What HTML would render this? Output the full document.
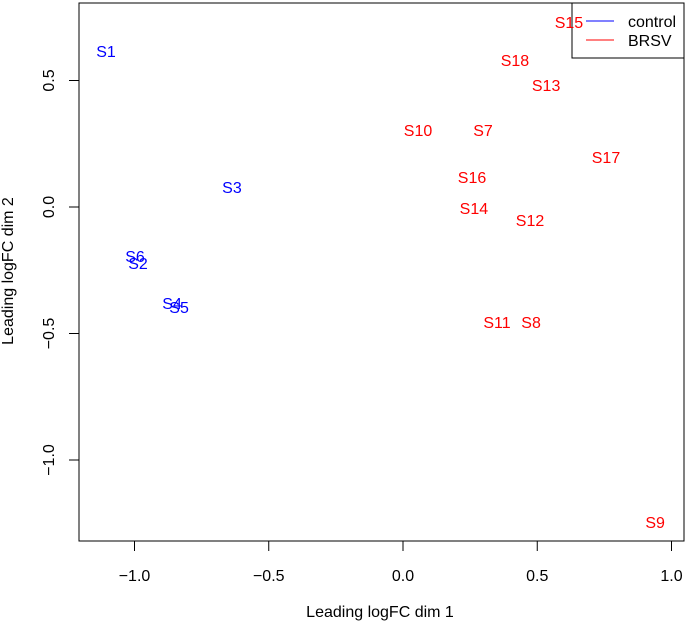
<!DOCTYPE html>
<html><head><meta charset="utf-8"><style>
html,body{margin:0;padding:0;background:#fff;}
svg{display:block;font-family:"Liberation Sans",Arial,sans-serif;}
</style></head><body>
<svg id="chart" width="685" height="626" viewBox="0 0 685 626">
<rect x="79" y="3" width="605" height="538" fill="none" stroke="#000" stroke-width="1"/>
<g id="xaxis"></g>
<g id="yaxis"></g>
<text x="380" y="617" font-size="16" text-anchor="middle">Leading logFC dim 1</text>
<text transform="translate(13,271) rotate(-90)" font-size="16" text-anchor="middle">Leading logFC dim 2</text>
<g>
<rect x="572" y="3" width="112" height="55" fill="none" stroke="#000"/>
<line x1="586" y1="21" x2="614" y2="21" stroke="blue"/>
<text x="628" y="27" font-size="16">control</text>
<line x1="586" y1="40" x2="614" y2="40" stroke="red"/>
<text x="628" y="46" font-size="16">BRSV</text>
</g>
<g id="points"></g>
</svg>
<script>
const labels = ["S1","S2","S3","S4","S5","S6","S7","S8","S9","S10","S11","S12","S13","S14","S15","S16","S17","S18"];
const groups = ["control","control","control","control","control","control","BRSV","BRSV","BRSV","BRSV","BRSV","BRSV","BRSV","BRSV","BRSV","BRSV","BRSV","BRSV"];
const dim1 = [-1.106,-0.987,-0.637,-0.86,-0.834,-0.998,0.298,0.477,0.939,0.056,0.35,0.473,0.533,0.264,0.618,0.257,0.756,0.417];
const dim2 = [0.617,-0.222,0.079,-0.379,-0.395,-0.194,0.304,-0.455,-1.245,0.304,-0.455,-0.051,0.482,-0.004,0.731,0.119,0.198,0.581];
const xTicks = [-1.0,-0.5,0.0,0.5,1.0];
const yTicks = [0.5,0.0,-0.5,-1.0];
const xTickLabels = ["\u22121.0","\u22120.5","0.0","0.5","1.0"];
const yTickLabels = ["0.5","0.0","\u22120.5","\u22121.0"];
function sx(v){return 403 + v*268.5;}
function sy(v){return 207 - v*253;}
const NS="http://www.w3.org/2000/svg";
const xa=document.getElementById('xaxis'), ya=document.getElementById('yaxis'), pts=document.getElementById('points');
function mk(tag,attrs,parent){const e=document.createElementNS(NS,tag);for(const k in attrs)e.setAttribute(k,attrs[k]);parent.appendChild(e);return e;}
mk('line',{x1:sx(xTicks[0]),x2:sx(xTicks[xTicks.length-1]),y1:541,y2:541,stroke:'#000'},xa);
xTicks.forEach((t,i)=>{
  const l=mk('line',{x1:sx(t),x2:sx(t),y1:541,y2:551,stroke:'#000'},xa);
  
  
  const tx=mk('text',{x:sx(t),y:581,'font-size':16,'text-anchor':'middle'},xa);
  tx.textContent=xTickLabels[i];
  
  
});
mk('line',{x1:79,x2:79,y1:sy(yTicks[0]),y2:sy(yTicks[yTicks.length-1]),stroke:'#000'},ya);
yTicks.forEach((t,i)=>{
  const l=mk('line',{x1:69,x2:79,y1:sy(t),y2:sy(t),stroke:'#000'},ya);
  
  
  const tx=mk('text',{transform:`translate(54,${sy(t)}) rotate(-90)`,'font-size':16,'text-anchor':'middle'},ya);
  tx.textContent=yTickLabels[i];
  
  
});
labels.forEach((s,i)=>{
  const tx=mk('text',{x:sx(dim1[i]),y:sy(dim2[i])+6,'font-size':16,'text-anchor':'middle',fill:groups[i]==='control'?'blue':'red'},pts);
  tx.textContent=s;
  
  
});
</script>
</body></html>
